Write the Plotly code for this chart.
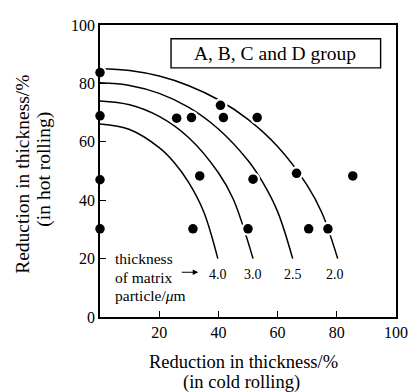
import plotly.graph_objects as go

# Measured points
pt_cold = [0, 0, 0, 0, 25.9, 30.9, 40.7, 41.7, 53.1, 33.7, 51.7, 66.4, 85.4, 31.4, 50, 70.5, 77]
pt_hot = [83.7, 68.9, 47, 30.2, 68.1, 68.3, 72.5, 68.3, 68.3, 48.3, 47.2, 49.2, 48.3, 30.2, 30.2, 30.2, 30.2]

# Iso-thickness curves
c20_x = [0, 10, 20, 30, 40, 50, 60, 70, 75, 80.3]
c20_y = [85, 84.4, 82.5, 79.2, 74.4, 67.7, 58.4, 45.1, 35.6, 20]
c25_x = [0, 10, 20, 30, 40, 50, 55, 60, 65.1]
c25_y = [80.2, 79.3, 76.6, 71.8, 64.4, 53.6, 46.1, 36.1, 20]
c30_x = [0, 10, 20, 30, 40, 45, 51.7]
c30_y = [74, 72.7, 68.7, 61.4, 49.4, 40.4, 20]
c40_x = [0, 10, 20, 25, 30, 35, 39.8]
c40_y = [66.1, 64.2, 58.0, 53.0, 46.0, 36.1, 20]

curve_labels = ["4.0", "3.0", "2.5", "2.0"]
curve_label_x = [39.9, 51.8, 65.1, 79.5]

x_ticks = [20, 40, 60, 80, 100]
y_ticks = [0, 20, 40, 60, 80, 100]

SERIF = "Liberation Serif"

# page has an 8px body margin; lay the figure out in window pixels
OFF = 8
W, H = 417 - OFF, 392 - OFF
l = 99.5 - OFF
t = 16.7 - OFF
r = W - (399.8 - OFF)
b = H - (316.7 - OFF)
pw, ph = W - l - r, H - t - b


def px(xw):
    return (xw - OFF - l) / pw


def py(yw):
    return (H - b - (yw - OFF)) / ph


fig = go.Figure()
for cx, cy in [(c20_x, c20_y), (c25_x, c25_y), (c30_x, c30_y), (c40_x, c40_y)]:
    fig.add_trace(go.Scatter(x=cx, y=cy, mode="lines", line=dict(color="black", width=1.5, shape="spline"),
                             hoverinfo="skip", showlegend=False))
# white halo to break curves around dots
fig.add_trace(go.Scatter(x=pt_cold, y=pt_hot, mode="markers",
                         marker=dict(size=14, color="white"), cliponaxis=False, showlegend=False))
fig.add_trace(go.Scatter(x=pt_cold, y=pt_hot, mode="markers",
                         marker=dict(size=9.5, color="black"), cliponaxis=False, showlegend=False))

axis_common = dict(range=[0, 100], showline=True, linecolor="black", linewidth=1.6, mirror=True,
                   ticks="inside", ticklen=6, tickwidth=1.2, tickcolor="black", showgrid=False, zeroline=False,
                   tickfont=dict(family=SERIF, size=16, color="black"))
fig.update_xaxes(tickvals=x_ticks, ticktext=[str(v) for v in x_ticks], **axis_common)
fig.update_yaxes(tickvals=y_ticks, ticktext=[str(v) for v in y_ticks], **axis_common)

fig.update_layout(
    width=W, height=H,
    margin=dict(l=l, r=r, t=t, b=b, pad=0),
    paper_bgcolor="white", plot_bgcolor="white",
    showlegend=False,
)


def txt(x, y, text, size, xref="x", yref="y", xanchor="center", angle=0):
    fig.add_annotation(x=x, y=y, xref=xref, yref=yref, text=text, showarrow=False,
                       xanchor=xanchor, yanchor="middle", textangle=angle,
                       font=dict(family=SERIF, size=size, color="black"))


for lab, lx in zip(curve_labels, curve_label_x):
    txt(lx, 14.5, lab, 14)

txt(4.5, 20, "thickness", 15.5, xanchor="left")
txt(4.5, 13.4, "of matrix", 15.5, xanchor="left")
txt(4.5, 7.2, "particle/<i>μ</i>m", 15.5, xanchor="left")
# arrow pointing at the curve labels
fig.add_annotation(x=33.2, y=15.3, xref="x", yref="y", ax=-18, ay=0, axref="pixel", ayref="pixel",
                   text="", showarrow=True, arrowhead=2, arrowsize=1, arrowwidth=1.1, arrowcolor="black")

fig.add_shape(type="rect", x0=24, x1=94.8, y0=85.3, y1=95.3, xref="x", yref="y",
              line=dict(color="black", width=1.4), fillcolor="white", layer="below")
txt(59.2, 90.3, "A, B, C and D group", 19.5)

txt(px(245), py(363), "Reduction in thickness/%", 18.5, xref="paper", yref="paper")
txt(px(243), py(383.5), "(in cold rolling)", 18.5, xref="paper", yref="paper")
txt(px(21), py(170), "Reduction in thickness/%", 19.5, xref="paper", yref="paper", angle=-90)
txt(px(43), py(165), "(in hot rolling)", 19.5, xref="paper", yref="paper", angle=-90)

fig.write_html("out.html")
